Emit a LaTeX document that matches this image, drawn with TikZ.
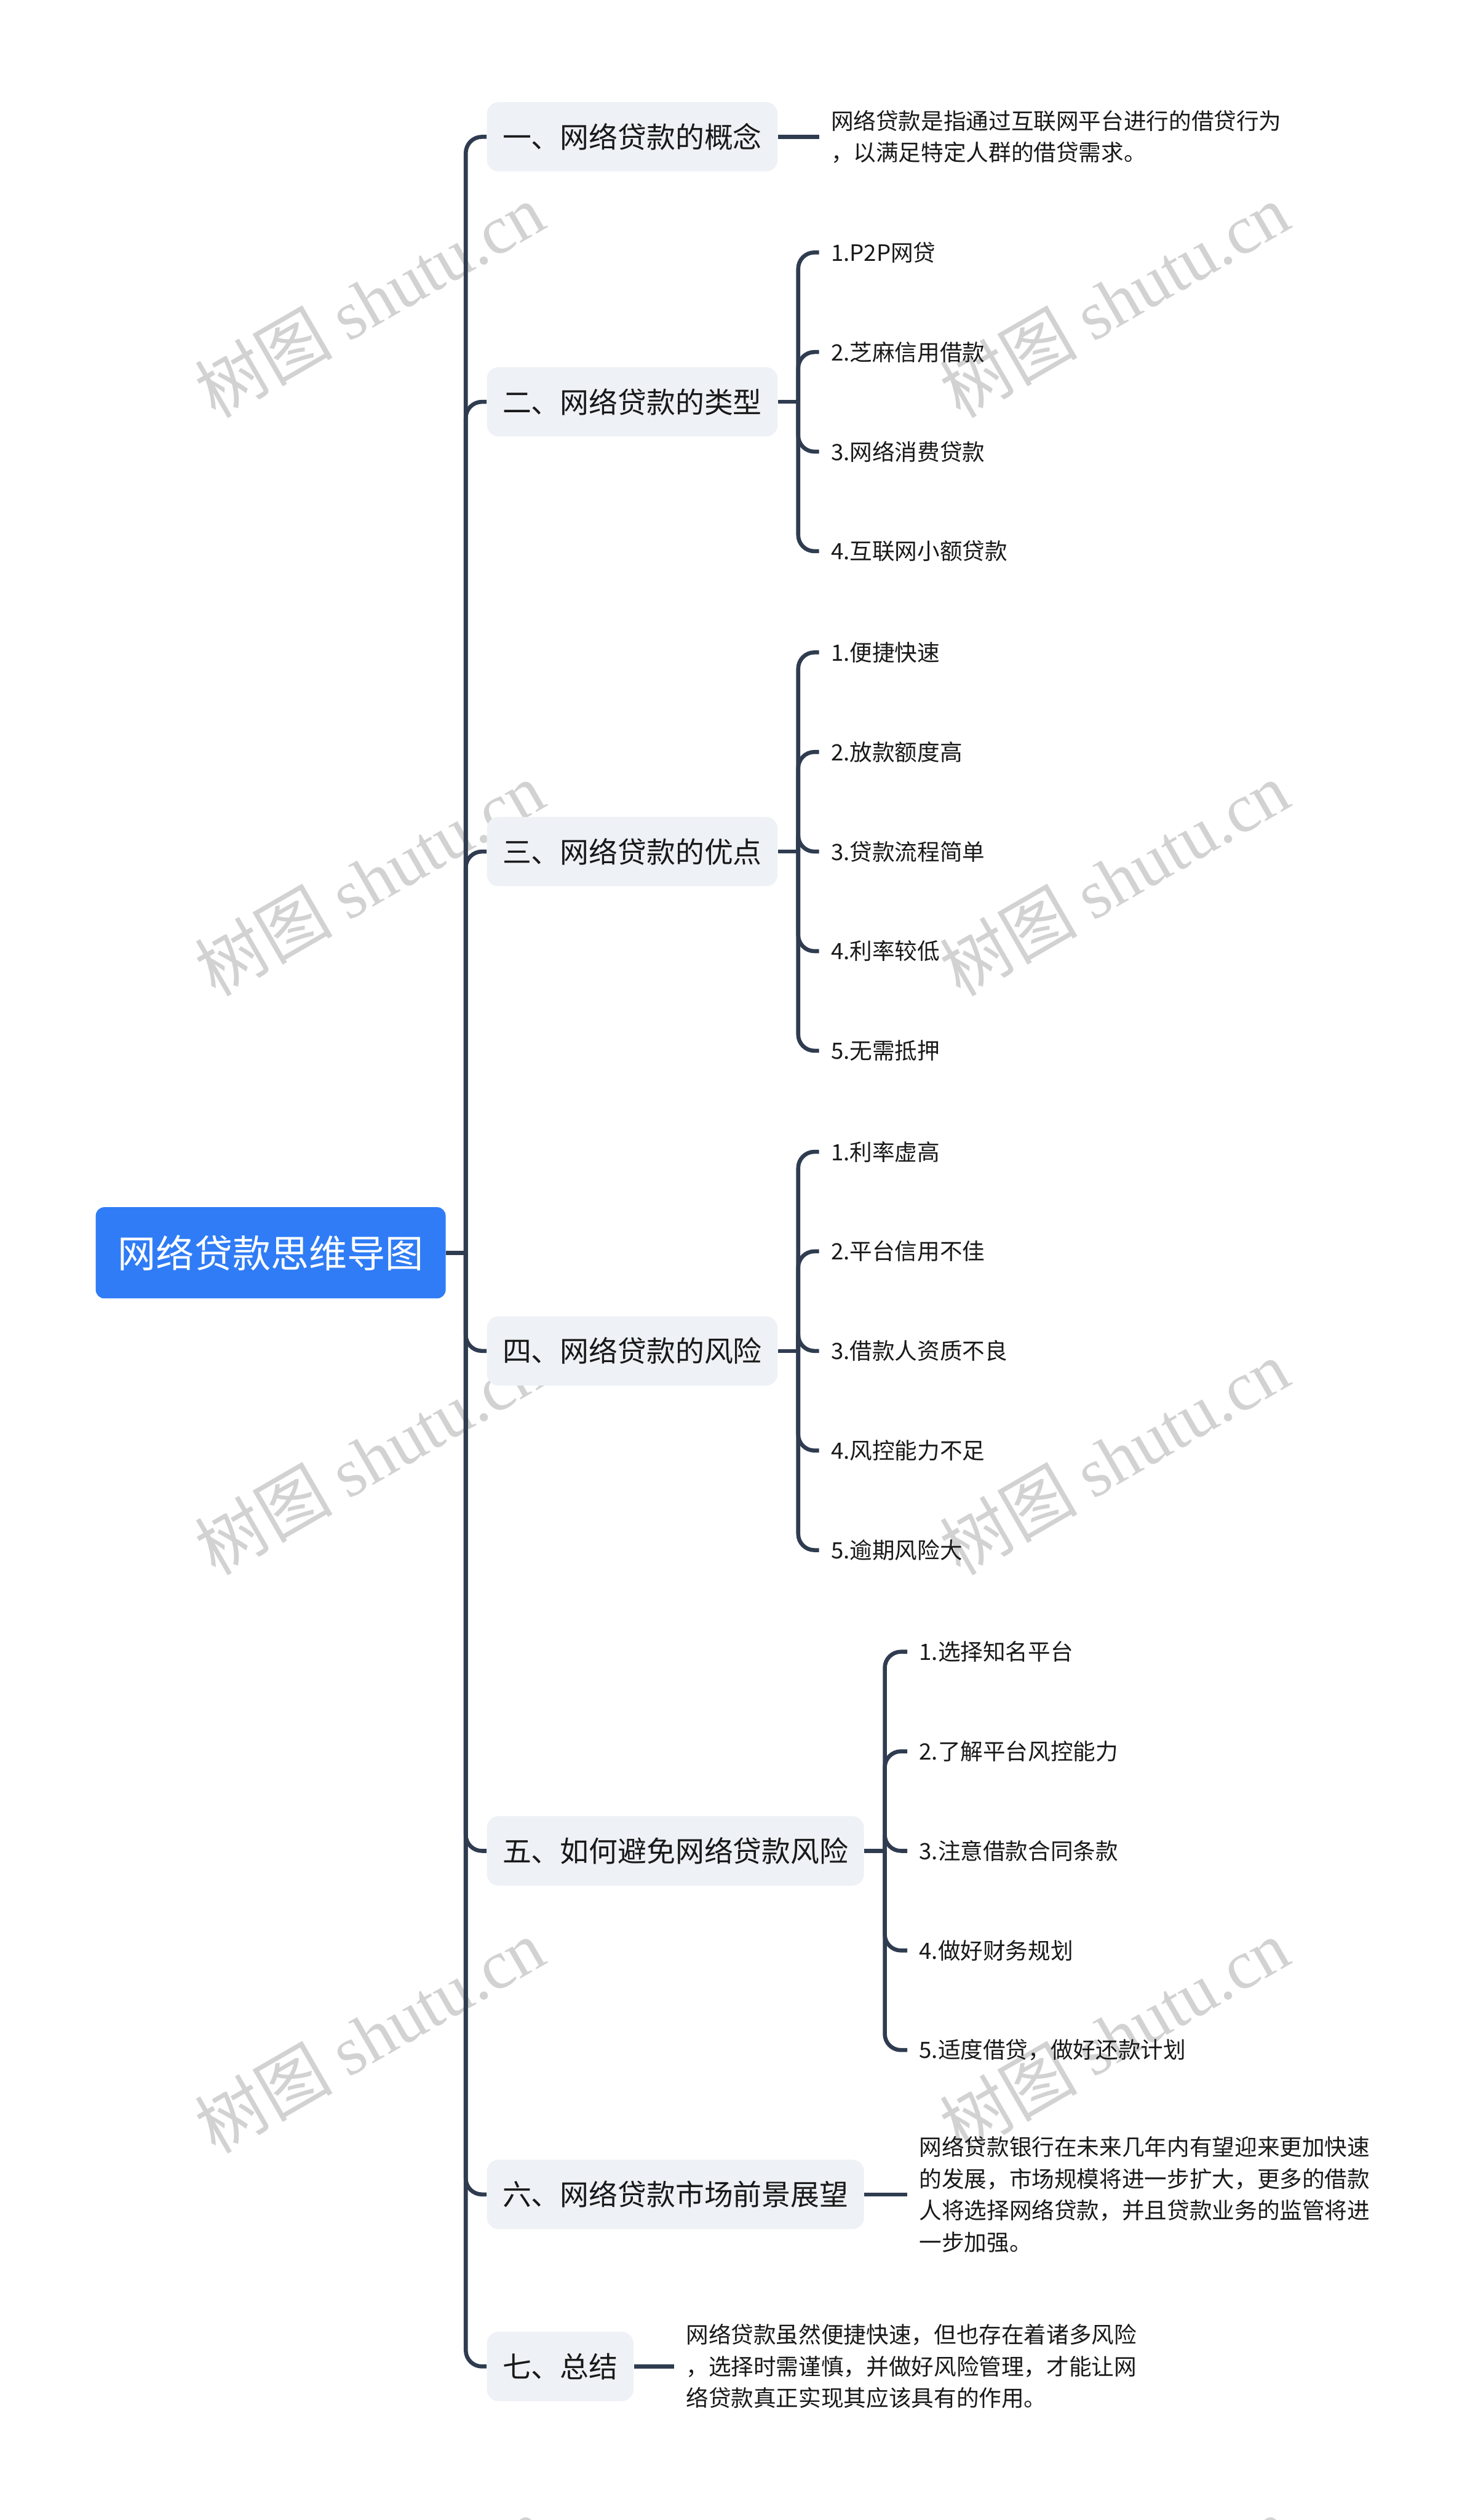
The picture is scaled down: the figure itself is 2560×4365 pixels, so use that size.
\documentclass[tikz,border=0pt]{standalone}
\usepackage{fontspec}
\setmainfont{Noto Sans CJK SC}
\newfontfamily\wmlat{Liberation Serif}
\newfontfamily\wmcjk{Noto Sans CJK SC}
\definecolor{lineC}{RGB}{47,60,80}
\definecolor{rootC}{RGB}{47,124,246}
\definecolor{boxC}{RGB}{238,241,245}
\definecolor{txtC}{RGB}{25,25,25}
\definecolor{wmC}{RGB}{210,210,210}
\tikzset{
  conn/.style={draw=lineC, line width=0.07cm, rounded corners=0.28cm},
  rootbox/.style={fill=rootC, rounded corners=0.15cm, text=white, font=\fontsize{18.8}{22}\selectfont, minimum width=6.06cm, minimum height=1.58cm, inner sep=0pt},
  topicbox/.style={fill=boxC, rounded corners=0.2cm, text=txtC, font=\fontsize{14.2}{17}\selectfont, minimum height=1.2cm, inner xsep=0.27cm, inner ysep=0pt, anchor=west},
  leafnode/.style={text=txtC, font=\fontsize{11.1}{15.6}\selectfont, inner xsep=0.2cm, inner ysep=0pt, anchor=west, align=left},
  wmark/.style={text=wmC, rotate=30, font=\fontsize{34}{40}\selectfont, inner sep=0pt}
}
\begin{document}
\begin{tikzpicture}[x=0.01cm, y=-0.01cm]
\useasboundingbox (0,0) rectangle (2560,4365);
% watermarks
\foreach \wy [count=\i] in {520,1522,2524,3526,4528}{
  \node[wmark] (wa\i) at (640,\wy) {{\wmcjk 树图} {\wmlat shutu.cn}};
  \node[wmark] (wb\i) at (1930,\wy) {{\wmcjk 树图} {\wmlat shutu.cn}};
}
% root
\node[rootbox] (root) at (469,2170) {网络贷款思维导图};
\coordinate (tr) at (807,2170);
\draw[conn] (root.east) -- (tr);
% topics
\node[topicbox] (t1) at (843,237) {一、网络贷款的概念};
\node[topicbox] (t2) at (843,696) {二、网络贷款的类型};
\node[topicbox] (t3) at (843,1475) {三、网络贷款的优点};
\node[topicbox] (t4) at (843,2340) {四、网络贷款的风险};
\node[topicbox] (t5) at (843,3206) {五、如何避免网络贷款风险};
\node[topicbox] (t6) at (843,3801) {六、网络贷款市场前景展望};
\node[topicbox] (t7) at (843,4099) {七、总结};
\foreach \t in {t1,t2,t3,t4,t5,t6,t7}{
  \draw[conn] (tr) |- (\t.west);
}
% descriptions
\node[leafnode] (d1) at (1419,237) {网络贷款是指通过互联网平台进行的借贷行为\\，以满足特定人群的借贷需求。};
\draw[conn] (t1.east) -- (d1.west);
\node[leafnode] (d6) at (1572,3801) {网络贷款银行在未来几年内有望迎来更加快速\\的发展，市场规模将进一步扩大，更多的借款\\人将选择网络贷款，并且贷款业务的监管将进\\一步加强。};
\draw[conn] (t6.east) -- (d6.west);
\node[leafnode] (d7) at (1168,4099) {网络贷款虽然便捷快速，但也存在着诸多风险\\，选择时需谨慎，并做好风险管理，才能让网\\络贷款真正实现其应该具有的作用。};
\draw[conn] (t7.east) -- (d7.west);
% group 2
\coordinate (b2) at (1383,696);
\draw[conn] (t2.east) -- (b2);
\node[leafnode] (l21) at (1419,437.25) {1.P2P网贷};
\node[leafnode] (l22) at (1419,609.75) {2.芝麻信用借款};
\node[leafnode] (l23) at (1419,782.25) {3.网络消费贷款};
\node[leafnode] (l24) at (1419,954.75) {4.互联网小额贷款};
\foreach \l in {l21,l22,l23,l24}{\draw[conn] (b2) |- (\l.west);}
% group 3
\coordinate (b3) at (1383,1475);
\draw[conn] (t3.east) -- (b3);
\node[leafnode] (l31) at (1419,1130) {1.便捷快速};
\node[leafnode] (l32) at (1419,1302.5) {2.放款额度高};
\node[leafnode] (l33) at (1419,1475) {3.贷款流程简单};
\node[leafnode] (l34) at (1419,1647.5) {4.利率较低};
\node[leafnode] (l35) at (1419,1820) {5.无需抵押};
\foreach \l in {l31,l32,l33,l34,l35}{\draw[conn] (b3) |- (\l.west);}
% group 4
\coordinate (b4) at (1383,2340);
\draw[conn] (t4.east) -- (b4);
\node[leafnode] (l41) at (1419,1995) {1.利率虚高};
\node[leafnode] (l42) at (1419,2167.5) {2.平台信用不佳};
\node[leafnode] (l43) at (1419,2340) {3.借款人资质不良};
\node[leafnode] (l44) at (1419,2512.5) {4.风控能力不足};
\node[leafnode] (l45) at (1419,2685) {5.逾期风险大};
\foreach \l in {l41,l42,l43,l44,l45}{\draw[conn] (b4) |- (\l.west);}
% group 5
\coordinate (b5) at (1533,3206);
\draw[conn] (t5.east) -- (b5);
\node[leafnode] (l51) at (1572,2861) {1.选择知名平台};
\node[leafnode] (l52) at (1572,3033.5) {2.了解平台风控能力};
\node[leafnode] (l53) at (1572,3206) {3.注意借款合同条款};
\node[leafnode] (l54) at (1572,3378.5) {4.做好财务规划};
\node[leafnode] (l55) at (1572,3551) {5.适度借贷，做好还款计划};
\foreach \l in {l51,l52,l53,l54,l55}{\draw[conn] (b5) |- (\l.west);}
\end{tikzpicture}
\end{document}
